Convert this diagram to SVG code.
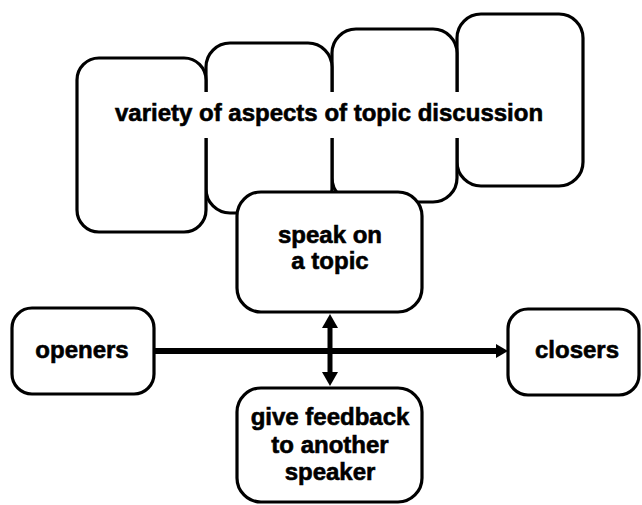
<svg xmlns="http://www.w3.org/2000/svg" width="642" height="505" viewBox="0 0 642 505">
<defs>
<style>
.box{fill:#fff;stroke:#000;stroke-width:3.2}
.t{font-family:"Liberation Sans",Arial,Helvetica,sans-serif;font-weight:bold;font-size:24px;fill:#000;stroke:#000;stroke-width:0.6;text-anchor:middle}
.conn{stroke:#000;fill:none}
</style>
<marker id="arrowH" markerUnits="userSpaceOnUse" viewBox="0 0 12 14" markerWidth="12" markerHeight="14" refX="1" refY="7" orient="auto">
<path d="M0,0 L12,7 L0,14 z" fill="#000"/>
</marker>
<marker id="arrowV" markerUnits="userSpaceOnUse" viewBox="0 0 14 16" markerWidth="14" markerHeight="16" refX="1" refY="8" orient="auto-start-reverse">
<path d="M0,0 L14,8 L0,16 z" fill="#000"/>
</marker>
</defs>
<rect width="642" height="505" fill="#fff"/>
<g id="aspects">
<rect class="box" x="457" y="14" width="126" height="172" rx="24"/>
<rect class="box" x="332" y="29" width="125" height="173" rx="24"/>
<rect class="box" x="206" y="43" width="126" height="170" rx="24"/>
<rect class="box" x="77" y="58" width="129" height="174" rx="22"/>
<rect x="110" y="92" width="440" height="46" fill="#fff"/>
<text class="t" x="329" y="121">variety of aspects of topic discussion</text>
</g>
<g id="speak">
<rect class="box" x="237" y="192" width="185" height="120" rx="24"/>
<text class="t" x="330" y="243">speak on</text>
<text class="t" x="330" y="269">a topic</text>
</g>
<g id="openers">
<rect class="box" x="12" y="308" width="142" height="86" rx="20"/>
<text class="t" x="82" y="358">openers</text>
</g>
<g id="closers">
<rect class="box" x="508" y="309" width="131" height="86" rx="20"/>
<text class="t" x="577" y="358">closers</text>
</g>
<g id="feedback">
<rect class="box" x="237" y="388" width="185" height="114" rx="24"/>
<text class="t" x="330" y="425">give feedback</text>
<text class="t" x="330" y="453">to another</text>
<text class="t" x="330" y="480">speaker</text>
</g>
<g id="connectors">
<line class="conn" x1="154" y1="351" x2="497" y2="351" stroke-width="6" marker-end="url(#arrowH)"/>
<line class="conn" x1="330" y1="327" x2="330" y2="373" stroke-width="5" marker-start="url(#arrowV)" marker-end="url(#arrowV)"/>
</g>
</svg>
